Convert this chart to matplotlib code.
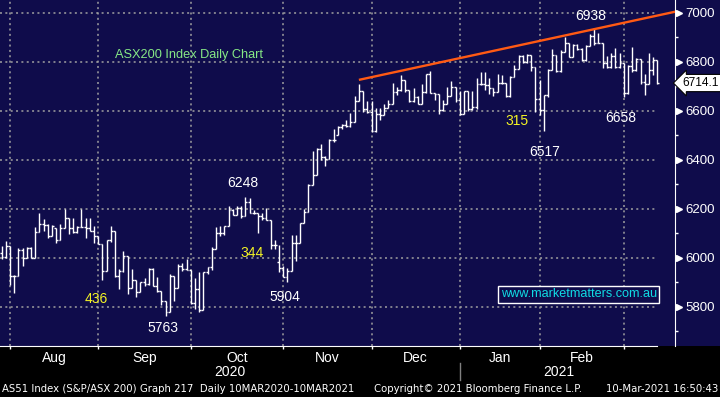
import numpy as np
import matplotlib.pyplot as plt
from matplotlib.collections import LineCollection
from matplotlib.patches import Rectangle

# ASX200 daily bars, 30 Jul 2020 - 10 Mar 2021
opens = [6020, 6004,
         6048, 5925, 5925, 6034, 6000, 6041, 6000, 6107, 6137, 6134, 6089, 6123, 6075, 6123, 6162, 6123, 6107, 6127, 6127, 6121, 6112,
         6089, 6058, 5948, 6075, 6112, 5925, 5946, 6010, 5876, 5910, 5860, 5900, 5894, 5955, 5887, 5866, 5825, 5781, 5925, 5876, 5966, 5955,
         5951, 5815, 5874, 5789, 5942, 5962, 6037, 6102, 6102, 6132, 6195, 6174, 6204, 6173, 6227, 6184, 6184, 6170, 6163, 6157, 6055, 5984,
         5958, 5924, 5947, 6062, 6062, 6141, 6186, 6299, 6339, 6443, 6411, 6403, 6480, 6500, 6534, 6541, 6537, 6555, 6641, 6682, 6610,
         6596, 6518, 6586, 6585, 6614, 6630, 6678, 6685, 6726, 6685, 6641, 6658, 6630, 6678, 6753, 6674, 6668, 6603, 6630, 6660, 6699,
         6644, 6586, 6682, 6610, 6615, 6710, 6710, 6705, 6692, 6678, 6715, 6715, 6660, 6740, 6770, 6825, 6801, 6829, 6781,
         6647, 6605, 6667, 6767, 6829, 6764, 6842, 6879, 6822, 6870, 6852, 6808, 6866, 6907, 6879, 6879, 6797, 6781, 6825, 6781,
         6795, 6674, 6784, 6767, 6811, 6719, 6712, 6767, 6808]
highs = [6048, 6068,
         6048, 5930, 6041, 6041, 6045, 6045, 6126, 6185, 6158, 6137, 6134, 6123, 6140, 6199, 6162, 6162, 6130, 6199, 6162, 6162, 6130,
         6089, 6058, 6075, 6132, 6112, 5955, 6030, 6010, 5955, 5910, 5900, 5920, 5958, 5958, 5921, 5866, 5825, 5934, 5925, 5976, 5980, 5996,
         5951, 5917, 5942, 5942, 5962, 6044, 6125, 6130, 6132, 6213, 6200, 6213, 6213, 6248, 6245, 6197, 6184, 6184, 6204, 6157, 6073, 6055,
         5968, 5961, 6092, 6092, 6143, 6200, 6301, 6436, 6447, 6467, 6416, 6484, 6528, 6537, 6545, 6564, 6592, 6660, 6712, 6682, 6641,
         6641, 6614, 6614, 6627, 6644, 6715, 6699, 6747, 6726, 6685, 6692, 6660, 6710, 6753, 6764, 6674, 6668, 6644, 6699, 6723, 6699,
         6682, 6682, 6682, 6682, 6733, 6760, 6760, 6733, 6692, 6751, 6747, 6715, 6742, 6788, 6829, 6829, 6833, 6829, 6781,
         6726, 6667, 6770, 6853, 6829, 6847, 6904, 6879, 6874, 6874, 6856, 6870, 6915, 6938, 6918, 6879, 6825, 6838, 6856, 6836,
         6795, 6788, 6860, 6815, 6811, 6753, 6836, 6822, 6808]
lows = [5995, 6000,
        5890, 5859, 5925, 5966, 6000, 6000, 6000, 6107, 6110, 6082, 6089, 6062, 6075, 6123, 6099, 6103, 6103, 6127, 6082, 6112, 6062,
        6058, 5911, 5948, 6064, 5921, 5874, 5944, 5852, 5876, 5840, 5860, 5887, 5890, 5887, 5863, 5808, 5763, 5781, 5826, 5876, 5948, 5950,
        5812, 5792, 5781, 5789, 5935, 5950, 6037, 6091, 6093, 6132, 6174, 6174, 6164, 6170, 6184, 6181, 6100, 6154, 6157, 6035, 6035, 5941,
        5924, 5904, 5947, 5988, 6062, 6141, 6186, 6299, 6339, 6400, 6377, 6403, 6474, 6500, 6527, 6534, 6534, 6555, 6641, 6596, 6592,
        6514, 6514, 6562, 6582, 6614, 6630, 6664, 6682, 6678, 6637, 6637, 6627, 6627, 6674, 6674, 6644, 6586, 6600, 6630, 6660, 6637,
        6582, 6586, 6600, 6605, 6610, 6705, 6685, 6668, 6660, 6678, 6712, 6658, 6658, 6740, 6770, 6797, 6797, 6764, 6596,
        6582, 6517, 6658, 6767, 6760, 6760, 6842, 6819, 6819, 6849, 6805, 6805, 6866, 6870, 6877, 6774, 6774, 6774, 6774, 6774,
        6658, 6671, 6760, 6764, 6712, 6664, 6712, 6747, 6712]
closes = [6004, 6048,
          5925, 5925, 6034, 6000, 6041, 6000, 6107, 6137, 6134, 6089, 6130, 6075, 6123, 6162, 6123, 6107, 6127, 6127, 6121, 6112, 6089,
          6058, 5948, 6075, 6112, 5925, 5946, 6010, 5876, 5910, 5860, 5900, 5894, 5955, 5887, 5866, 5825, 5781, 5925, 5876, 5966, 5955, 5951,
          5815, 5874, 5789, 5942, 5962, 6037, 6102, 6102, 6132, 6195, 6174, 6204, 6173, 6227, 6184, 6184, 6170, 6163, 6157, 6055, 6055, 5958,
          5924, 5947, 6062, 6062, 6141, 6186, 6299, 6339, 6443, 6411, 6403, 6480, 6481, 6534, 6541, 6537, 6555, 6641, 6682, 6610, 6596,
          6518, 6586, 6585, 6614, 6630, 6678, 6685, 6726, 6685, 6641, 6658, 6630, 6678, 6753, 6674, 6668, 6603, 6630, 6660, 6699, 6644,
          6586, 6682, 6610, 6615, 6710, 6710, 6705, 6692, 6678, 6715, 6715, 6660, 6740, 6770, 6825, 6801, 6829, 6781, 6647,
          6605, 6667, 6767, 6829, 6764, 6842, 6879, 6822, 6870, 6852, 6808, 6866, 6907, 6879, 6879, 6797, 6781, 6825, 6781, 6795,
          6674, 6784, 6767, 6811, 6719, 6712, 6767, 6808, 6714.1]

months = ['Jul', 'Aug', 'Sep', 'Oct', 'Nov', 'Dec', 'Jan', 'Feb', 'Mar']
month_bars = [2, 21, 22, 22, 21, 21, 19, 20, 9]
years = ['2020', '2021']
price_ticks = [5800, 6000, 6200, 6400, 6600, 6800, 7000]
minor_ticks = [5700, 5900, 6100, 6300, 6500, 6700, 6900]

# resistance line drawn on the chart
trend_idx = [85, 161]
trend_val = [6727, 7008]

navy = '#0f0c4b'
grey = '#a0a0a0'
plt.rcParams['font.family'] = ['Liberation Sans', 'DejaVu Sans']

fig = plt.figure(figsize=(7.2, 3.97), dpi=100, facecolor=navy)
fig.add_artist(Rectangle((0, 0), 1, 51.3 / 397, transform=fig.transFigure,
                         facecolor='black', edgecolor='none', zorder=0))
ax = fig.add_axes([0, 51.3 / 397, 675 / 720, 345.7 / 397])
ax.set_facecolor(navy)

n = len(closes)
x = np.arange(n)
segs = []
for i in range(n):
    segs.append([(x[i], lows[i]), (x[i], highs[i])])
    segs.append([(x[i] - 0.45, opens[i]), (x[i], opens[i])])
    segs.append([(x[i], closes[i]), (x[i] + 0.45, closes[i])])
ax.add_collection(LineCollection(segs, colors='white', linewidths=1.0, zorder=3))

ax.plot(trend_idx, trend_val, color='#ff5a14', lw=1.7, zorder=4, solid_capstyle='butt')

xmin, xmax = -0.38, 160.2
grid_end = 155.9
ax.set_xlim(xmin, xmax)
ax.set_ylim(5642, 7053)

# month boundaries
bounds = np.cumsum([0] + month_bars)
starts = bounds[1:-1]
for s in starts:
    ax.axvline(s, color=grey, lw=1.1, ls=(0, (1.3, 2.2)), zorder=1)
for p in price_ticks:
    ax.axhline(p, xmax=(grid_end - xmin) / (xmax - xmin), color=grey, lw=1.1,
               ls=(0, (1.3, 2.2)), zorder=1)

# x axis
ax.set_xticks(starts)
ax.set_xticklabels([])
ax.tick_params(axis='x', which='major', colors='white', length=2.5, width=1, direction='out')
mids = [(bounds[k] + bounds[k + 1]) / 2 for k in range(1, len(months) - 1)]
ax.set_xticks(mids, minor=True)
ax.set_xticklabels(months[1:-1], minor=True)
ax.tick_params(axis='x', which='minor', length=0, pad=4, labelsize=10, labelcolor='white')

jan = bounds[6]
xt = ax.get_xaxis_transform()
ax.text((xmin + jan) / 2, -0.076, years[0], transform=xt, ha='center', va='center',
        color='white', fontsize=10)
ax.text((jan + grid_end) / 2, -0.076, years[1], transform=xt, ha='center', va='center',
        color='white', fontsize=10)
ax.plot([jan, jan], [-0.05, -0.099], transform=xt, color='#808080', lw=1, clip_on=False)

# y axis on the right
ax.yaxis.tick_right()
ax.set_yticks(price_ticks)
ax.set_yticks(minor_ticks, minor=True)
ax.tick_params(axis='y', which='major', length=0, pad=7.3, labelsize=9.5, labelcolor='white')
ax.tick_params(axis='y', which='minor', length=2.5, width=1, colors='white', direction='out')
yt = ax.get_yaxis_transform()
ax.plot([1.0065] * len(price_ticks), price_ticks, transform=yt, marker='>', ms=5,
        color='white', ls='none', clip_on=False)

for side in ['top', 'left']:
    ax.spines[side].set_visible(False)
ax.spines['right'].set_color('white')
ax.spines['bottom'].set_color('white')
ax.spines['bottom'].set_bounds(xmin, grid_end)

# last price tag at the right edge
ax.text(1.0115, closes[-1], f'{closes[-1]:.1f}', transform=yt, ha='left', va='center',
        fontsize=8.6, color='black', clip_on=False,
        bbox=dict(boxstyle='larrow,pad=0.22', fc='white', ec='black', lw=0.8))

# annotations
ax.text(44.6, 6829, 'ASX200 Index Daily Chart', color='#86e886', fontsize=9.2,
        ha='center', va='center')
for lbl, xi, yv, col in [('6248', 57.4, 6306, 'white'), ('6938', 140.2, 6988, 'white'),
                         ('315', 122.6, 6559, '#f4f424'), ('6517', 129.3, 6433, 'white'),
                         ('6658', 147.3, 6571, 'white'), ('436', 22.5, 5833, '#f4f424'),
                         ('5763', 38.3, 5716, 'white'), ('344', 59.5, 6022, '#f4f424'),
                         ('5904', 67.4, 5842, 'white')]:
    ax.text(xi, yv, lbl, color=col, fontsize=10, ha='center', va='center', zorder=5)
ax.text(137.3, 5851, 'www.marketmatters.com.au', color='#10dce4', fontsize=9.1,
        ha='center', va='center', zorder=5,
        bbox=dict(boxstyle='square,pad=0.2', fc=navy, ec='white', lw=1))

# footer
fs = 7.25
fig.text(2 / 720, 8 / 397, 'AS51 Index (S&P/ASX 200) Graph 217  Daily 10MAR2020-10MAR2021',
         color='white', fontsize=fs, family='DejaVu Sans', ha='left', va='center')
fig.text(374 / 720, 8 / 397, 'Copyright\u00a9 2021 Bloomberg Finance L.P.',
         color='white', fontsize=fs, family='DejaVu Sans', ha='left', va='center')
fig.text(718 / 720, 8 / 397, '10-Mar-2021 16:50:43',
         color='white', fontsize=fs, family='DejaVu Sans', ha='right', va='center')

fig.savefig('out.png', dpi=100, facecolor=fig.get_facecolor())
